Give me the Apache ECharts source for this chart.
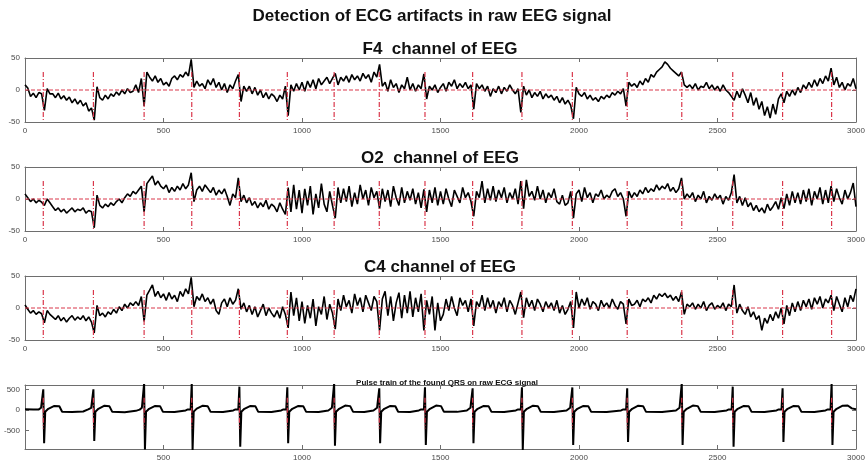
<!DOCTYPE html>
<html>
<head>
<meta charset="utf-8">
<script src="https://cdn.jsdelivr.net/npm/echarts@6/dist/echarts.min.js"></script>
<style>
  html, body { margin: 0; padding: 0; background: #fff; }
  #chart { width: 868px; height: 466px; }
</style>
</head>
<body>
<div id="chart"></div>
<script>
// sample spacing of the EEG traces
var step = 10

// QRS positions found on the ECG (samples)
var qrs = [66, 247, 430, 602, 774, 947, 1116, 1279, 1444, 1616, 1794, 1976, 2174, 2371, 2555, 2735, 2912]

var xTicks = [0, 500, 1000, 1500, 2000, 2500, 3000]
var ecgXTicks = [500, 1000, 1500, 2000, 2500, 3000]
var eegYTicks = [-50, 0, 50]
var ecgYTicks = [-500, 0, 500]

// F4 channel, one value every 10 samples
var f4 = [
  8, 3, -10, -5, -12, -4, -6, -32, 2, -6,
  -6, -12, -5, -14, -9, -16, -11, -20, -14, -22,
  -16, -25, -20, -33, -28, -47, 5, -12, -16, -8,
  -14, -6, -10, -3, -8, 0, -6, 2, -4, -2,
  8, -4, 18, -25, 28, 20, 14, 22, 12, 18,
  8, 12, 6, 18, 22, 16, 24, 20, 28, 22,
  48, 4, 14, 6, 10, 2, 16, 8, 18, 4,
  12, 0, 10, -4, 8, 2, 14, 24, -18, 6,
  -2, 6, -6, 4, -8, 0, -12, -4, -14, -6,
  -10, -18, -8, -14, 6, -40, 8, -2, 10, 0,
  12, -2, 14, 4, 16, 2, 18, 8, 14, 20,
  10, 18, 26, 8, 20, 14, 22, 12, 24, 16,
  22, 14, 26, 18, 24, 12, 28, 20, 40, 6,
  12, -2, 16, 4, 10, -4, 8, 2, 20, 0,
  10, -2, 8, 2, 25, -14, 6, 0, 8, -4,
  4, 10, -2, 12, 6, 16, 2, 10, 4, 12,
  2, 8, -30, 10, 2, 8, -2, 6, -10, 2,
  -4, 6, -6, 4, -2, 8, 0, -6, 2, -35,
  6, -8, 0, -12, -4, -10, -2, -14, -6, -12,
  -8, -16, -10, -20, -12, -22, -16, -24, -45, 4,
  -6, -10, -4, -14, -8, -16, -12, -18, -10, -14,
  -8, -12, -4, -8, -2, -6, 2, -25, 12, 6,
  10, 4, 14, 8, 18, 12, 24, 20, 28, 32,
  36, 44, 40, 34, 30, 26, 22, 28, 8, 4,
  8, 2, 10, 0, 6, 4, 12, 2, 8, 0,
  6, -2, 8, 0, -4, -10, -16, -2, -12, 2,
  -8, -20, -4, -24, -12, -30, -18, -40, -26, -44,
  -22, -38, -14, -6, -20, -2, -10, 0, -8, 4,
  -4, 8, 2, 12, 4, 16, 6, 18, 10, 22,
  14, 34, 8, 20, 4, 12, 0, 10, 6, 18,
  2
]

// O2 channel
var o2 = [
  8, 2, -4, 0, -6, -2, -5, -10, 0, -6,
  -12, -18, -14, -20, -16, -22, -18, -14, -20, -16,
  -18, -14, -22, -18, -20, -45, 6, -10, -14, -8,
  -12, -6, -10, -4, 0, -6, 2, 8, 4, 12,
  8, 14, 20, -20, 24, 30, 36, 22, 28, 20,
  16, 22, 10, 18, 12, 20, 14, 24, 16, 22,
  41, -4, 14, 20, 12, 22, 16, 10, 18, 6,
  14, 8, 16, 4, -10, 8, 2, 33, -4, 6,
  -6, 2, -10, -4, -14, -6, -12, -2, -16, -8,
  -12, -20, -6, -16, -24, 18, -20, 22, -16, 14,
  -22, 16, -10, 20, -24, 8, -14, 24, -8, -20,
  12, -10, -30, 18, -6, 16, -4, 20, -12, 10,
  -8, 22, 0, 14, -10, 18, 2, 12, -15, 16,
  -4, 14, -12, 20, 2, -10, 18, -6, 12, -2,
  16, -8, 10, -14, 15, -20, 14, -6, 18, -10,
  12, -8, 16, 0, -12, 14, 4, -6, 18, 2,
  10, -4, -27, 12, 2, 28, -6, 16, -2, 20,
  -4, 14, 2, 18, -6, 10, 0, 16, -8, 28,
  -15, 30, 4, 12, -2, 20, 0, 14, -6, 10,
  2, 16, -4, -8, 6, -10, -6, 12, -30, 8,
  14, -4, 18, 2, 10, -6, 8, 4, 14, 0,
  6, 2, 12, 16, 4, 10, 0, -27, 12, 2,
  10, 4, 14, 8, 18, 10, 16, 12, 22, 14,
  20, 16, 24, 12, 18, 10, 16, 33, 0, 8,
  2, 10, -4, 6, 0, 12, -6, 4, -2, 8,
  0, 6, -8, 4, -2, 10, 38, -6, 4, -10,
  2, -12, -6, -18, -10, -20, -14, -22, -8, -18,
  -12, -4, -16, 2, -15, 8, -10, 12, -6, 10,
  -8, 14, -4, 16, -10, 12, 0, 18, -8, 14,
  -6, 20, -4, 16, 2, -8, 14, 0, 10, 25,
  -12
]

// C4 channel
var c4 = [
  5, -2, -8, -4, -10, -6, -9, -23, -4, -10,
  -14, -18, -12, -20, -15, -22, -16, -12, -19, -14,
  -18, -12, -20, -14, -22, -39, 4, -12, -8, -14,
  -6, -10, -2, -8, 2, -4, 6, 0, 8, 4,
  10, 4, 18, -21, 20, 28, 36, 18, 26, 16,
  22, 12, 24, 14, 20, 10, 26, 18, 30, 22,
  48, 2, 18, 12, 22, 10, 16, 6, 14, -4,
  -10, 8, 14, 2, 16, 6, 12, 30, -2, 8,
  -6, 4, -10, 2, -14, -4, 6, -12, 0, -8,
  -14, -4, -16, 2, -10, -31, 25, -12, 16, -20,
  10, -24, 4, -16, 14, -28, 2, -10, 18, -18,
  6, -8, -33, 14, -4, 20, 2, 12, -8, 22,
  4, 16, -6, 20, 8, -4, 18, 10, -35, 14,
  26, -12, 18, -20, 8, 24, -16, 20, -8, 26,
  -14, 16, -6, 22, -35, 12, -10, 18, -35, 8,
  -20, -10, 14, -4, 18, 0, -12, 16, 4, 12,
  -6, 14, -28, 10, 2, 20, -4, 16, 0, 12,
  -8, 10, 2, 16, -6, 12, 4, -10, 8, 25,
  -15, 16, 2, 12, -4, 14, 6, -6, 10, 0,
  8, -4, 12, -8, 4, -10, -2, 10, -31, 25,
  0, 14, 4, 16, -2, 10, 6, -4, 12, 2,
  8, 0, 14, 4, -2, 10, 6, -25, 14, 4,
  6, 12, 2, 14, 10, 16, 8, 20, 14, 22,
  18, 23, 16, 20, 12, 18, 10, 25, -10, 6,
  2, 8, -2, 6, 0, 10, -4, 4, 8, -2,
  4, 0, 8, -4, 6, 2, 36, -8, 6, -4,
  -10, 2, -14, -6, -18, -12, -35, -16, -24, -10,
  -20, -6, -16, 0, -25, 4, -12, 8, -6, 10,
  -4, 12, 2, 14, -2, 16, 6, 18, 0, 14,
  8, 20, -4, 18, 6, -6, 16, 2, 20, 10,
  30
]

// raw ECG, [sample, amplitude]
var ecg = [
  [0, 20], [30, 10], [50, 15], [58, 55], [62, 10], [66, 505], [69, -812], [73, -40], [84, 30], [106, 100], [124, 90], [134, -40], [170, -50], [210, -35],
  [228, 15], [239, 55], [243, 10], [247, 505], [250, -756], [254, -40], [265, 30], [287, 105], [305, 90], [315, -45], [360, -55], [400, -20],
  [414, 10], [422, 55], [426, 10], [430, 650], [433, -960], [437, -40], [448, 30], [470, 100], [488, 90], [498, -45], [540, -50], [580, -10],
  [588, 15], [594, 55], [598, 10], [602, 650], [605, -980], [609, -40], [620, 35], [642, 105], [660, 90], [670, -45], [715, -50], [752, -10],
  [760, 15], [766, 55], [770, 10], [774, 570], [777, -895], [781, -40], [792, 30], [814, 100], [832, 90], [842, -45], [890, -50], [925, -10],
  [933, 15], [939, 55], [943, 10], [947, 553], [950, -812], [954, -40], [965, 30], [987, 100], [1005, 90], [1015, -45], [1060, -50], [1095, -10],
  [1102, 15], [1108, 55], [1112, 10], [1116, 650], [1119, -870], [1123, -40], [1134, 30], [1156, 110], [1174, 95], [1184, -40], [1225, -50], [1258, -10],
  [1265, 15], [1271, 55], [1275, 10], [1279, 530], [1282, -812], [1286, -40], [1297, 30], [1319, 100], [1337, 90], [1347, -40], [1390, -50], [1422, -10],
  [1430, 15], [1436, 55], [1440, 10], [1444, 553], [1447, -850], [1451, -40], [1462, 30], [1484, 110], [1502, 95], [1512, -40], [1560, -45], [1595, -10],
  [1602, 15], [1608, 55], [1612, 10], [1616, 530], [1619, -812], [1623, -40], [1634, 30], [1656, 100], [1674, 90], [1684, -45], [1730, -50], [1772, -10],
  [1780, 15], [1786, 55], [1790, 10], [1794, 553], [1797, -980], [1801, -40], [1812, 30], [1834, 105], [1852, 90], [1862, -45], [1910, -50], [1955, -10],
  [1962, 15], [1968, 55], [1972, 10], [1976, 550], [1979, -850], [1983, -40], [1994, 30], [2016, 100], [2034, 90], [2044, -45], [2100, -50], [2152, -10],
  [2160, 15], [2166, 55], [2170, 10], [2174, 530], [2177, -780], [2181, -40], [2192, 30], [2214, 105], [2232, 90], [2242, -45], [2300, -50], [2350, -10],
  [2357, 15], [2363, 55], [2367, 10], [2371, 650], [2374, -850], [2378, -40], [2389, 30], [2411, 110], [2429, 95], [2439, -40], [2490, -50], [2533, -10],
  [2541, 15], [2547, 55], [2551, 10], [2555, 570], [2558, -895], [2562, -40], [2573, 30], [2595, 100], [2613, 90], [2623, -45], [2670, -50], [2713, -10],
  [2721, 15], [2727, 55], [2731, 10], [2735, 530], [2738, -780], [2742, -40], [2753, 30], [2775, 100], [2793, 90], [2803, -45], [2850, -50], [2890, -10],
  [2898, 15], [2904, 55], [2908, 10], [2912, 650], [2915, -850], [2919, -40], [2930, 30], [2952, 105], [2970, 110], [2985, 40], [3000, 20]
]

var eegPanels = [
  { title: 'F4  channel of EEG', data: f4 },
  { title: 'O2  channel of EEG', data: o2 },
  { title: 'C4 channel of EEG', data: c4 }
]

var redColor = '#d9364a'
var frameColor = '#6e6e6e'
var labelColor = '#4a4a4a'
var dashDot = [5, 2, 1, 2]
var gridTops = [58, 167, 276, 385]
var fontFamily = 'Liberation Sans, Arial, sans-serif'

function toPts(vals) {
  return vals.map(function(v, i) { return [i * step, v] })
}

// vertical pulse marks, broken between beats
function pulsePts(top, bottom) {
  var pts = []
  qrs.forEach(function(q) {
    pts.push([q, top], [q, bottom], [q, '-'])
  })
  return pts
}

function plain(v) { return String(v) }

var chart = echarts.init(document.getElementById('chart'))

var titles = [{
  text: 'Detection of ECG artifacts in raw EEG signal',
  left: 427, top: 3, textAlign: 'center',
  textStyle: { fontFamily: fontFamily, fontWeight: 'bold', fontSize: 17, color: '#111' }
}]
var grids = []
var xAxes = []
var yAxes = []
var series = []

gridTops.forEach(function(top, i) {
  grids.push({ left: 25, right: 12, top: top, height: 64 })
  var isEcg = i === 3
  var xt = isEcg ? ecgXTicks : xTicks
  var yt = isEcg ? ecgYTicks : eegYTicks
  var yMin = isEcg ? -950 : -50
  var yMax = isEcg ? 610 : 50
  var tick = { show: true, inside: true, length: 4, lineStyle: { color: frameColor } }
  // bottom/left carry labels, top/right only close the box
  xAxes.push({
    type: 'value', gridIndex: i, min: 0, max: 3000, position: 'bottom',
    axisLine: { show: true, onZero: false, lineStyle: { color: frameColor } },
    axisTick: Object.assign({ customValues: xt }, tick),
    axisLabel: { fontSize: 8, color: labelColor, margin: 5, customValues: xt, fontFamily: fontFamily, formatter: plain },
    splitLine: { show: false }
  })
  xAxes.push({
    type: 'value', gridIndex: i, min: 0, max: 3000, position: 'top',
    axisLine: { show: true, onZero: false, lineStyle: { color: frameColor } },
    axisTick: Object.assign({ customValues: xt }, tick),
    axisLabel: { show: false },
    splitLine: { show: false }
  })
  yAxes.push({
    type: 'value', gridIndex: i, min: yMin, max: yMax, position: 'left',
    axisLine: { show: true, onZero: false, lineStyle: { color: frameColor } },
    axisTick: Object.assign({ customValues: yt }, tick),
    axisLabel: { fontSize: 8, color: labelColor, margin: 5, customValues: yt, fontFamily: fontFamily, formatter: plain },
    splitLine: { show: false }
  })
  yAxes.push({
    type: 'value', gridIndex: i, min: yMin, max: yMax, position: 'right',
    axisLine: { show: true, onZero: false, lineStyle: { color: frameColor } },
    axisTick: Object.assign({ customValues: yt }, tick),
    axisLabel: { show: false },
    splitLine: { show: false }
  })
})

eegPanels.forEach(function(p, i) {
  titles.push({
    text: p.title, left: 435, top: gridTops[i] - 22, textAlign: 'center',
    textStyle: { fontFamily: fontFamily, fontWeight: 'bold', fontSize: 17, color: '#111' }
  })
  series.push({
    type: 'line', xAxisIndex: i * 2, yAxisIndex: i * 2, data: toPts(p.data),
    showSymbol: false, lineStyle: { color: '#000', width: 1.6 }, z: 2
  })
  series.push({
    type: 'line', xAxisIndex: i * 2, yAxisIndex: i * 2, data: [[0, 0], [3000, 0]],
    showSymbol: false, lineStyle: { color: redColor, width: 1, type: [4, 2] }, z: 3
  })
  series.push({
    type: 'line', xAxisIndex: i * 2, yAxisIndex: i * 2, data: pulsePts(28, -50),
    showSymbol: false, connectNulls: false, lineStyle: { color: redColor, width: 1.2, type: dashDot }, z: 3
  })
})

titles.push({
  text: 'Pulse train of the found QRS on raw ECG signal', left: 442, top: 374, textAlign: 'center',
  textStyle: { fontFamily: fontFamily, fontWeight: 'bold', fontSize: 8, color: '#111' }
})
series.push({
  type: 'line', xAxisIndex: 6, yAxisIndex: 6, data: ecg,
  showSymbol: false, lineStyle: { color: '#000', width: 2 }, z: 2
})
series.push({
  type: 'line', xAxisIndex: 6, yAxisIndex: 6, data: pulsePts(300, -450),
  showSymbol: false, connectNulls: false, lineStyle: { color: redColor, width: 1.2, type: dashDot }, z: 3
})

chart.setOption({
  backgroundColor: '#fff',
  animation: false,
  title: titles,
  grid: grids,
  xAxis: xAxes,
  yAxis: yAxes,
  series: series
})
</script>
</body>
</html>
